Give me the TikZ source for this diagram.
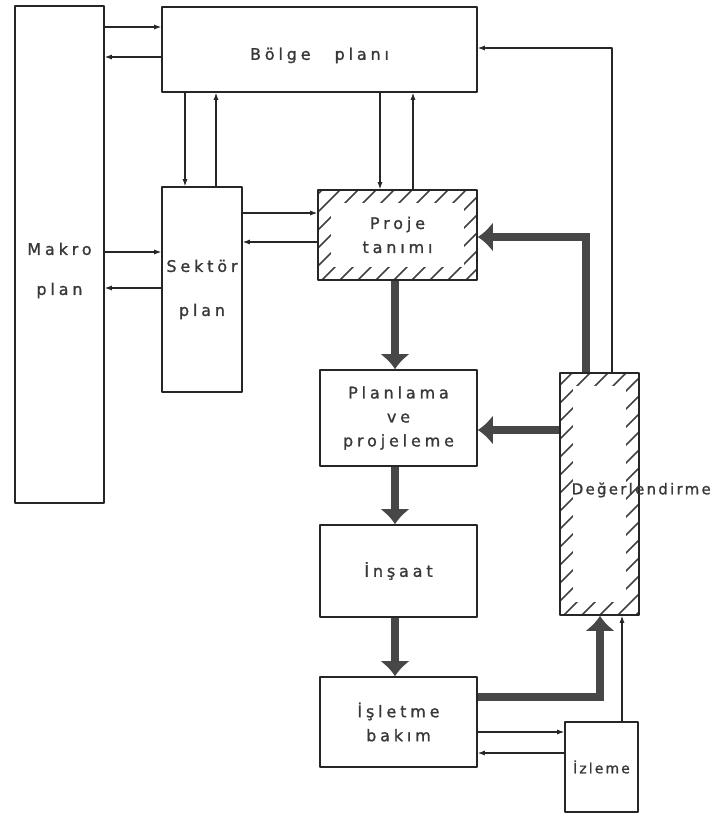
\documentclass[tikz,border=0pt]{standalone}
\usepackage{fontspec}
\setmainfont[LetterSpace=24,FakeBold=1.2]{DejaVu Sans}
\usetikzlibrary{arrows.meta,calc}

\begin{document}
\begin{tikzpicture}[x=1pt,y=-1pt,line cap=round,line join=round,
  font=\fontsize{16}{24}\selectfont,
  box/.style={draw=black!85,line width=1.6pt,inner sep=0pt,align=center,text=black!78},
  hatched/.style={path picture={
      \foreach \i in {-320,-302,...,200}
        \draw[black!75,line width=1.6pt] ($(path picture bounding box.south west)+(\i,0)$) -- ++(320,-320);
      \fill[white] ($(path picture bounding box.south west)+(13,-13)$) rectangle ($(path picture bounding box.north east)+(-13,13)$);
    }},
  link/.style={draw=black!85,line width=1.1pt,-{Latex[length=7pt,width=5pt]}},
  bigflow/.style={draw=black!72,line width=8pt,line cap=butt,line join=miter,-{Latex[length=15pt,width=30pt]}}]
  \useasboundingbox (0,0) rectangle (715,816);
  % boxes
  \node[box,minimum width=89pt,minimum height=497pt,
    label={[yshift=-16pt,align=center,text=black!78]center:Makro\\[16pt]plan}] (makro) at (59.5,254.5) {};
  \node[box,minimum width=315pt,minimum height=85pt,text height=24pt] (bolge) at (319.5,49.5) {Bölge\hspace{24pt}planı};
  \node[box,minimum width=80pt,minimum height=205pt] (sektor) at (202,289.5) {Sektör\\[20pt]plan};
  \node[box,hatched,minimum width=159pt,minimum height=90pt] (proje) at (397.5,235) {Proje\\tanımı};
  \node[box,minimum width=157pt,minimum height=96pt] (planlama) at (398.5,418) {Planlama\\ve\\projeleme};
  \node[box,minimum width=157pt,minimum height=92pt] (insaat) at (398.5,571) {İnşaat};
  \node[box,minimum width=157pt,minimum height=90pt] (isletme) at (398.5,722) {İşletme\\bakım};
  \node[box,minimum width=73pt,minimum height=90pt,
    font=\fontsize{14}{20}\selectfont\addfontfeature{LetterSpace=15}] (izleme) at (601.5,767) {İzleme};
  \node[box,hatched,minimum width=79pt,minimum height=242pt,
    label={[anchor=west,xshift=9pt,yshift=4pt,text=black!78,
      font=\fontsize{15}{20}\selectfont\addfontfeature{LetterSpace=15}]west:Değerlendirme}] (deger) at (599.5,494) {};
  % thin links
  \draw[link] (makro.east |- 0,27) -- (bolge.west |- 0,27);
  \draw[link] (bolge.west |- 0,57) -- (makro.east |- 0,57);
  \draw[link] (makro.east |- 0,252) -- (sektor.west |- 0,252);
  \draw[link] (sektor.west |- 0,288) -- (makro.east |- 0,288);
  \draw[link] (bolge.south -| 185,0) -- (sektor.north -| 185,0);
  \draw[link] (sektor.north -| 216,0) -- (bolge.south -| 216,0);
  \draw[link] (sektor.east |- 0,213) -- (proje.west |- 0,213);
  \draw[link] (proje.west |- 0,242) -- (sektor.east |- 0,242);
  \draw[link] (bolge.south -| 380,0) -- (proje.north -| 380,0);
  \draw[link] (proje.north -| 413,0) -- (bolge.south -| 413,0);
  \draw[link] (deger.north -| 612,0) |- (bolge.east |- 0,48);
  \draw[link] (izleme.north -| 622,0) -- (deger.south -| 622,0);
  \draw[link] (isletme.east |- 0,732) -- (izleme.west |- 0,732);
  \draw[link] (izleme.west |- 0,753) -- (isletme.east |- 0,753);
  % main flow
  \draw[bigflow] (proje.south -| 395,0) -- (planlama.north -| 395,0);
  \draw[bigflow] (planlama.south -| 395,0) -- (insaat.north -| 395,0);
  \draw[bigflow] (insaat.south -| 395,0) -- (isletme.north -| 395,0);
  \draw[bigflow] (deger.north -| 586,0) |- (proje.east |- 0,237);
  \draw[bigflow] (deger.west |- 0,430) -- (planlama.east |- 0,430);
  \draw[bigflow] (isletme.east |- 0,697) -| (deger.south -| 600,0);
\end{tikzpicture}
\end{document}
